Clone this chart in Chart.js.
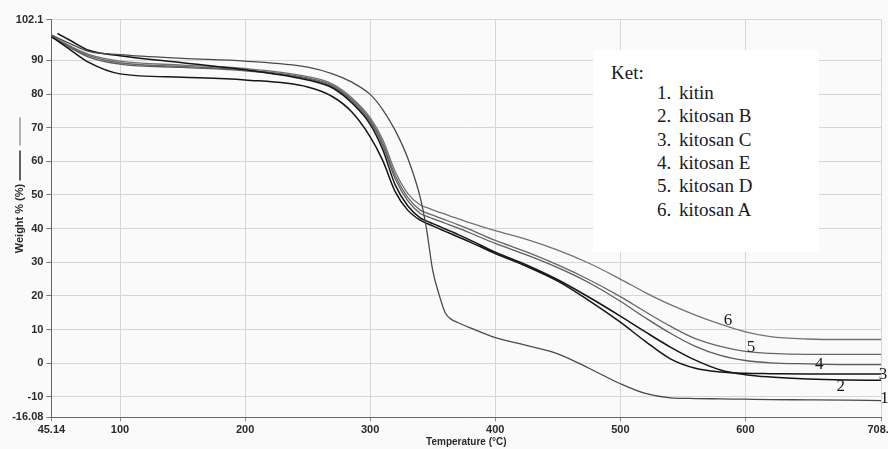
<!DOCTYPE html>
<html>
<head>
<meta charset="utf-8">
<script src="https://cdn.jsdelivr.net/npm/chart.js@4.4.1/dist/chart.umd.min.js"></script>
<style>
  body { margin: 0; background: #fafafa; overflow: hidden; }
  #wrap { position: relative; width: 897px; height: 449px; }
  #ket {
    position: absolute; left: 593px; top: 50px; width: 226px; height: 202px;
    background: #fff; font-family: "Liberation Serif", "Times New Roman", serif;
    font-size: 19px; color: #1a1a1a;
  }
  #ket .head { position: absolute; left: 18px; top: 12px; }
  #ket .row { position: absolute; left: 64px; height: 23px; line-height: 23px; white-space: nowrap; }
  #ket .row span { display: inline-block; width: 22px; }
</style>
</head>
<body>
<div id="wrap">
  <canvas id="tgaChart"></canvas>
  <div id="ket"><div class="head">Ket:</div></div>
</div>
<script>
// suhu (x) dan berat % tiap sampel
const temps = [45.14, 50, 60, 75, 100, 150, 200, 250, 270, 285, 300, 310, 320, 330, 340, 345, 350, 355, 360, 365, 370, 380, 400, 425, 450, 475, 500, 520, 540, 560, 580, 600, 620, 650, 680, 708.6];

const kitin     = [97.6, 96.7, 95.0, 92.7, 91.7, 90.6, 89.8, 88.0, 86.0, 83.6, 79.9, 75.4, 69.2, 61.0, 49.3, 40.0, 27.6, 20.5, 15.0, 13.0, 12.1, 10.5, 7.6, 5.3, 2.8, -1.5, -6.1, -9.0, -10.3, -10.5, -10.6, -10.7, -10.8, -10.9, -11.0, -11.1];
const kitosanB  = [null, 98.0, 96.0, 93.0, 91.4, 89.3, 87.2, 84.2, 81.8, 77.5, 71.0, 63.5, 53.0, 46.8, 43.2, 42.3, 41.5, 40.7, 39.9, 39.1, 38.3, 36.6, 33.0, 29.2, 24.8, 19.6, 14.0, 9.3, 4.8, 0.9, -2.0, -3.4, -4.1, -4.7, -5.0, -5.1];
const kitosanC  = [97.0, 95.8, 93.2, 89.4, 86.0, 85.0, 84.2, 82.1, 79.2, 74.8, 67.3, 60.3, 51.0, 45.5, 42.5, 41.6, 40.8, 40.0, 39.2, 38.4, 37.6, 36.0, 32.6, 28.8, 24.4, 18.6, 12.2, 6.5, 1.3, -1.5, -2.6, -3.0, -3.1, -3.2, -3.2, -3.2];
const kitosanE  = [97.0, 96.0, 93.8, 91.0, 88.9, 87.9, 86.9, 84.5, 82.2, 78.0, 71.7, 64.7, 54.8, 48.3, 44.5, 43.7, 43.0, 42.3, 41.6, 40.9, 40.2, 38.7, 35.6, 32.2, 28.4, 23.9, 18.4, 13.5, 8.9, 5.0, 2.3, 0.8, 0.1, -0.2, -0.4, -0.4];
const kitosanD  = [97.1, 96.1, 94.0, 91.4, 89.3, 88.2, 87.2, 84.8, 82.6, 78.5, 72.3, 65.5, 55.8, 49.3, 45.5, 44.7, 44.0, 43.3, 42.6, 41.9, 41.2, 39.7, 36.5, 33.1, 29.2, 24.8, 19.8, 15.3, 11.0, 7.3, 5.0, 3.5, 2.9, 2.6, 2.6, 2.6];
const kitosanA  = [97.2, 96.3, 94.3, 91.8, 89.8, 88.6, 87.6, 85.2, 83.0, 79.0, 73.0, 66.5, 57.0, 50.5, 47.0, 46.3, 45.6, 44.9, 44.3, 43.6, 43.0, 41.7, 39.4, 36.8, 33.6, 29.7, 25.0, 21.0, 17.4, 14.3, 11.6, 9.3, 7.9, 7.2, 7.05, 7.05];

const seriesNames = ['kitin', 'kitosan B', 'kitosan C', 'kitosan E', 'kitosan D', 'kitosan A'];
const seriesData = [kitin, kitosanB, kitosanC, kitosanE, kitosanD, kitosanA];
const seriesColors = ['#4a4a4a', '#151515', '#151515', '#5c5c5c', '#666666', '#727272'];

// ticks axis
const xTicks = [45.14, 100, 200, 300, 400, 500, 600, 708.6];
const yTicks = [-16.08, -10, 0, 10, 20, 30, 40, 50, 60, 70, 80, 90, 102.1];

// nomor kurva di ujung kanan
const curveNums = ['1', '2', '3', '4', '5', '6'];
const numX = [711.3, 676.2, 710.1, 659.0, 604.5, 586.1];
const numY = [-10.6, -7.0, -3.4, -0.4, 4.8, 12.6];

// isi kotak keterangan
const ket = document.getElementById('ket');
seriesNames.forEach((n, i) => {
  const d = document.createElement('div');
  d.className = 'row';
  d.style.top = (31 + i * 23.3) + 'px';
  d.innerHTML = '<span>' + (i + 1) + '.</span>' + n;
  ket.appendChild(d);
});

const numberPlugin = {
  id: 'curveNumbers',
  afterDraw(chart) {
    const { ctx, scales } = chart;
    ctx.save();
    ctx.font = '17px "Liberation Serif", serif';
    ctx.fillStyle = '#1a1a1a';
    ctx.textAlign = 'center';
    ctx.textBaseline = 'middle';
    curveNums.forEach((t, i) => {
      ctx.fillText(t, scales.x.getPixelForValue(numX[i]), scales.y.getPixelForValue(numY[i]));
    });
    // garis kecil di samping judul sumbu y
    const y = scales.y;
    const cx = 20;
    const cy = (y.top + y.bottom) / 2;
    ctx.lineWidth = 1.3;
    ctx.strokeStyle = '#111';
    ctx.beginPath(); ctx.moveTo(cx, cy - 68); ctx.lineTo(cx, cy - 38); ctx.stroke();
    ctx.strokeStyle = '#888';
    ctx.beginPath(); ctx.moveTo(cx, cy - 101); ctx.lineTo(cx, cy - 73); ctx.stroke();
    ctx.restore();
  }
};

const tickFont = { family: 'Liberation Sans', size: 11, weight: 'bold' };

const ctx = document.getElementById('tgaChart').getContext('2d');
new Chart(ctx, {
  type: 'line',
  data: {
    datasets: seriesData.map((arr, i) => ({
      label: seriesNames[i],
      data: temps.map((t, j) => ({ x: t, y: arr[j] })),
      borderColor: seriesColors[i],
      borderWidth: (i === 1 || i === 2) ? 1.5 : 1.3,
      pointRadius: 0,
      fill: false,
      cubicInterpolationMode: 'monotone'
    }))
  },
  options: {
    responsive: true,
    maintainAspectRatio: false,
    animation: false,
    layout: { padding: { top: 19.7, left: 0, right: 0, bottom: 0 } },
    plugins: {
      legend: { display: false },
      tooltip: { enabled: false }
    },
    scales: {
      x: {
        type: 'linear',
        min: 45.14,
        max: 708.6,
        afterBuildTicks: s => { s.ticks = xTicks.map(v => ({ value: v })); },
        afterFit: s => { s.height = 31.7; },
        grid: { color: '#d6d6d6', tickColor: '#888', tickLength: 4 },
        border: { color: '#666' },
        ticks: {
          color: '#2a2a2a',
          padding: 2,
          maxRotation: 0,
          autoSkip: false,
          callback: v => String(v),
          font: tickFont
        },
        title: {
          display: true,
          text: 'Temperature (°C)',
          color: '#2a2a2a',
          padding: { top: 0, bottom: 1 },
          font: { family: 'Liberation Sans', size: 10, weight: 'bold' }
        }
      },
      y: {
        min: -16.08,
        max: 102.1,
        afterBuildTicks: s => { s.ticks = yTicks.map(v => ({ value: v })); },
        afterFit: s => { s.width = 51.4; },
        grid: { color: '#d6d6d6', tickColor: '#777', tickLength: 5 },
        border: { color: '#666' },
        ticks: {
          color: '#2a2a2a',
          padding: 3,
          autoSkip: false,
          callback: v => String(v),
          font: tickFont
        },
        title: {
          display: true,
          text: 'Weight % (%)',
          color: '#2a2a2a',
          padding: { top: 13.4, bottom: 0 },
          font: { family: 'Liberation Sans', size: 11, weight: 'bold' }
        }
      }
    }
  },
  plugins: [numberPlugin]
});
</script>
</body>
</html>
